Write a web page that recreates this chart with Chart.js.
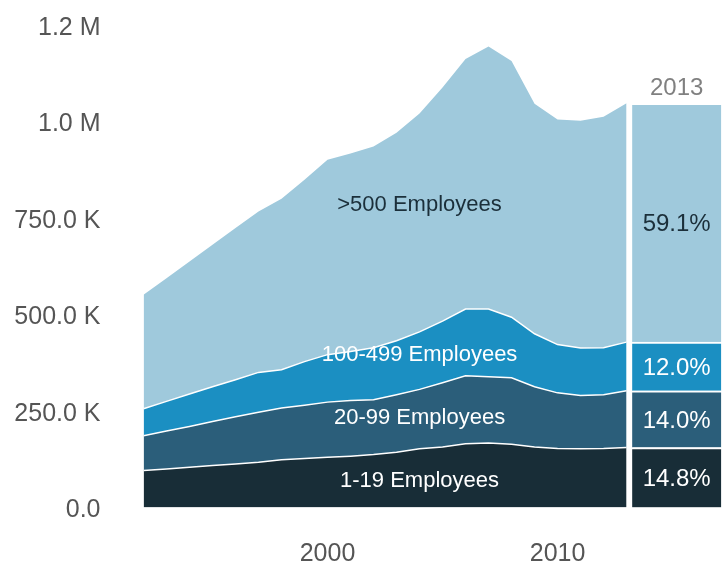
<!DOCTYPE html>
<html>
<head>
<meta charset="utf-8">
<script src="https://cdn.jsdelivr.net/npm/chart.js@4.4.1/dist/chart.umd.min.js"></script>
<style>
  html, body { margin: 0; padding: 0; background: #fff; }
</style>
</head>
<body>
<canvas id="myChart" width="726" height="565"></canvas>
<script>
// employees by firm size, 1992-2013
const years = [1992, 1993, 1994, 1995, 1996, 1997, 1998, 1999, 2000, 2001, 2002,
  2003, 2004, 2005, 2006, 2007, 2008, 2009, 2010, 2011, 2012, 2013]

const emp1to19 = [96000, 100000, 104000, 109000, 113000, 117000, 124000, 127000, 130000, 133000, 137000,
  143000, 152000, 157000, 165000, 167000, 164000, 157000, 153000, 152000, 153000, 155400]
const emp20to99 = [90000, 98000, 106000, 114000, 122000, 130000, 134000, 138000, 143000, 144000, 142000,
  149000, 154000, 166000, 176000, 172000, 172000, 156000, 144000, 138000, 139000, 147000]
const emp100to499 = [70000, 77000, 84000, 90000, 96000, 103000, 99000, 113000, 123000, 127000, 135000,
  140000, 149000, 160000, 173000, 175000, 157000, 137000, 125000, 123000, 122000, 126060]
const emp500plus = [295000, 319000, 343000, 368000, 393000, 417000, 443000, 471000, 505000, 513000, 521000,
  539000, 566000, 605000, 648000, 680000, 664000, 596000, 583000, 589000, 598000, 618540]

const seriesNames = ['1-19 Employees', '20-99 Employees', '100-499 Employees', '>500 Employees']
const seriesValues = [emp1to19, emp20to99, emp100to499, emp500plus]
const colors = ['#182d37', '#2b5e7a', '#1b8fc2', '#9fc9dc']
const textColors = ['#fff', '#fff', '#fff', '#1b2f3a']

const xTicks = [2000, 2010]
const barYear = 2015.18
const barLabel = '2013'

// where the series names sit, in data units
const areaLabelYear = 2004
const areaLabelValues = [74000, 237000, 400000, 788000]

const fontFamily = '"Liberation Sans", Arial, sans-serif'
Chart.defaults.font.family = fontFamily

function fmtTick(v) {
  if (v === 0) return '0.0'
  if (v >= 1000000) return (Math.floor(v / 100000) / 10).toFixed(1) + ' M'
  return (v / 1000).toFixed(1) + ' K'
}

const areaSets = seriesValues.map((vals, i) => ({
  type: 'line',
  label: seriesNames[i],
  data: years.map((yr, j) => ({ x: yr, y: vals[j] })),
  backgroundColor: colors[i],
  borderColor: '#fff',
  borderWidth: i === seriesValues.length - 1 ? 0 : 1.5,
  pointRadius: 0,
  tension: 0,
  fill: i === 0 ? 'origin' : '-1'
}))

const barSets = seriesValues.map((vals, i) => ({
  type: 'bar',
  label: seriesNames[i] + ' ' + barLabel,
  data: [{ x: barYear, y: vals[vals.length - 1] }],
  backgroundColor: colors[i],
  borderColor: '#fff',
  borderWidth: { top: 2, left: 0, right: 0, bottom: 0 },
  borderSkipped: false,
  barThickness: 89,
  stack: 'bar2013'
}))

const labelPlugin = {
  id: 'labels',
  afterDatasetsDraw(chart) {
    const ctx = chart.ctx
    const xs = chart.scales.x
    const ys = chart.scales.y
    const shift = 2 // canvas 'middle' sits a touch high for these glyphs
    ctx.save()
    ctx.textAlign = 'center'
    ctx.textBaseline = 'middle'

    ctx.font = '22px ' + fontFamily
    seriesNames.forEach((name, i) => {
      ctx.fillStyle = textColors[i]
      ctx.fillText(name, xs.getPixelForValue(areaLabelYear), ys.getPixelForValue(areaLabelValues[i]) + shift)
    })

    const last = seriesValues.map(v => v[v.length - 1])
    const total = last.reduce((a, b) => a + b, 0)
    ctx.font = '24px ' + fontFamily
    let top = null
    last.forEach((v, i) => {
      const bar = chart.getDatasetMeta(areaSets.length + i).data[0]
      ctx.fillStyle = textColors[i]
      ctx.fillText((v / total * 100).toFixed(1) + '%', bar.x, (bar.y + bar.base) / 2 + shift)
      top = bar
    })
    ctx.fillStyle = '#808080'
    ctx.fillText(barLabel, top.x, top.y - 15)
    ctx.restore()
  }
}

const ctx = document.getElementById('myChart')
const myChart = new Chart(ctx, {
  type: 'line',
  data: { datasets: [...areaSets, ...barSets] },
  options: {
    responsive: false,
    animation: false,
    layout: { padding: { top: 25, right: 4, left: 0, bottom: 0 } },
    plugins: { legend: { display: false }, tooltip: { enabled: false } },
    scales: {
      x: {
        type: 'linear',
        min: 1992,
        max: 2017.15,
        offset: false,
        grid: { display: false, drawTicks: false, offset: false },
        border: { display: false },
        afterBuildTicks: s => { s.ticks = xTicks.map(v => ({ value: v })) },
        afterFit: s => { s.height = 57.5; s.paddingLeft = 0; s.paddingRight = 0 },
        ticks: { padding: 32, color: '#555', font: { size: 25 }, callback: v => String(v) }
      },
      y: {
        stacked: true,
        min: 0,
        max: 1250000,
        grid: { display: false, drawTicks: false },
        border: { display: false },
        afterFit: s => { s.width = 143.5; s.paddingTop = 0; s.paddingBottom = 0 },
        ticks: { stepSize: 250000, padding: 43, labelOffset: 3, color: '#555', font: { size: 25 }, callback: fmtTick }
      }
    }
  },
  plugins: [labelPlugin]
})
</script>
</body>
</html>
